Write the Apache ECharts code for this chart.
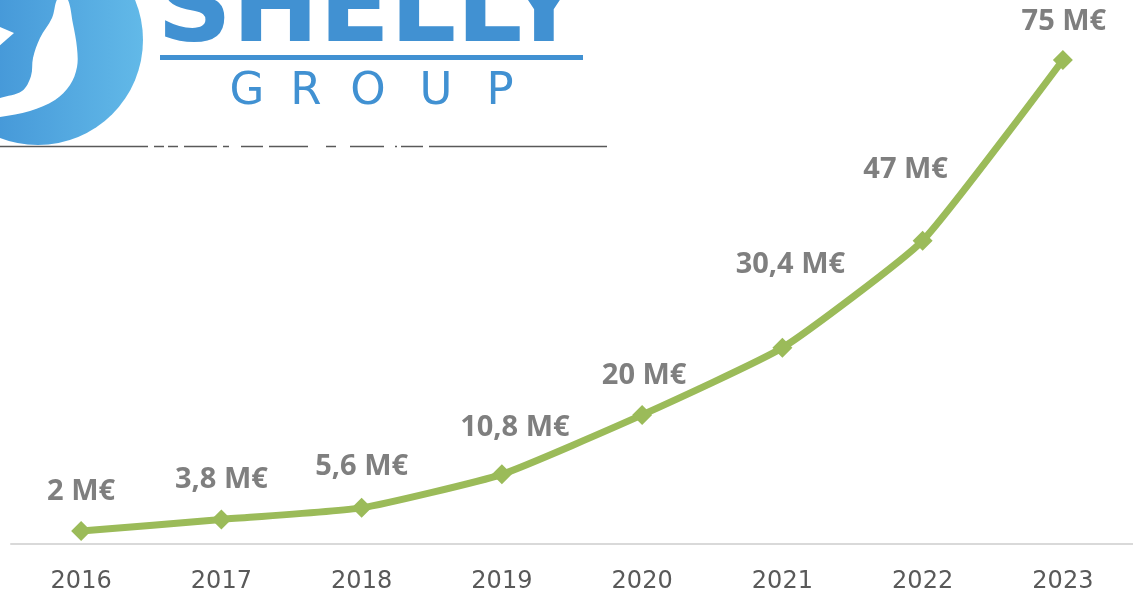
<!DOCTYPE html>
<html>
<head>
<meta charset="utf-8">
<script src="https://cdn.jsdelivr.net/npm/echarts@6/dist/echarts.min.js"></script>
<style>
html,body{margin:0;padding:0;background:#fff;}
#chart{width:1133px;height:595px;}
</style>
</head>
<body>
<div id="chart"></div>
<script>
// ---- data ----
const years = ['2016', '2017', '2018', '2019', '2020', '2021', '2022', '2023'];
const revenue = [2, 3.8, 5.6, 10.8, 20, 30.4, 47, 75];
const revenueLabels = ['2 M€', '3,8 M€', '5,6 M€', '10,8 M€', '20 M€', '30,4 M€', '47 M€', '75 M€'];

// ---- styling (label nudges, in px) ----
const labelOffsets = [[0,-39],[0,-40],[0,-41],[13,-47],[2,-39],[8,-83],[-17,-71],[1,-38]];

const GREEN = '#9bbb59';
const LOGO_BLUE = '#4191d2';

const chart = echarts.init(document.getElementById('chart'), null, {renderer: 'canvas'});

const seriesData = revenue.map((v, i) => ({
  value: v,
  label: {
    formatter: revenueLabels[i],
    offset: labelOffsets[i]
  }
}));

// separator line pieces under the logo
const sepPieces = [[0,148],[154,164],[168,178],[184,217],[223,229],[241,263],[269,308],[326,336],[350,384],[395,397],[401,423],[429,607]];
const groupLetters = [['G',247],['R',306],['O',368],['U',436],['P',500]];

const graphics = [
  {
    type: 'circle', z: 0,
    shape: {cx: 38, cy: 40, r: 105},
    style: {
      fill: new echarts.graphic.LinearGradient(0, 0, 1, 0, [
        {offset: 0, color: '#3a8bd2'},
        {offset: 1, color: '#62b9e8'}
      ])
    }
  },
  {
    type: 'polygon', z: 1,
    shape: {
      smooth: 0.35,
      points: [[58,-2],[52,18],[40,38],[33,58],[31,76],[22,91],[0,98],[-5,100],[-5,117],[0,117],[30,111],[55,100],[70,85],[77,67],[77,48],[73,24],[67,-2]]
    },
    style: {fill: '#ffffff'}
  },
  {
    type: 'polygon', z: 1,
    shape: {points: [[-2,26],[14,33],[6,40],[-2,47]]},
    style: {fill: '#ffffff'}
  },
  {
    type: 'text', z: 1,
    x: 157, y: 66,
    style: {
      text: 'SHELLY',
      fill: LOGO_BLUE,
      fontFamily: 'DejaVu Sans',
      fontWeight: 'bold',
      fontSize: 104,
      textAlign: 'left',
      textVerticalAlign: 'bottom'
    }
  },
  {
    type: 'rect', z: 1,
    shape: {x: 160, y: 55, width: 423, height: 5},
    style: {fill: LOGO_BLUE}
  }
];
groupLetters.forEach(([ch, cx]) => {
  graphics.push({
    type: 'text', z: 1,
    x: cx, y: 92,
    style: {
      text: ch,
      fill: LOGO_BLUE,
      fontFamily: 'DejaVu Sans',
      fontWeight: 'normal',
      fontSize: 45,
      textAlign: 'center',
      textVerticalAlign: 'middle'
    }
  });
});
sepPieces.forEach(([a, b]) => {
  graphics.push({
    type: 'line', z: 2,
    shape: {x1: a, y1: 146.5, x2: b, y2: 146.5},
    style: {stroke: '#595959', lineWidth: 1.5}
  });
});

const option = {
  backgroundColor: '#ffffff',
  animation: false,
  graphic: {elements: graphics},
  grid: {left: 11, width: 1123, top: 60, bottom: 51, containLabel: false},
  xAxis: {
    type: 'category',
    data: years,
    boundaryGap: true,
    axisLine: {show: true, lineStyle: {color: '#d9d9d9', width: 2}},
    axisTick: {show: false},
    axisLabel: {
      color: '#595959',
      fontFamily: 'DejaVu Sans',
      fontSize: 24,
      margin: 26
    },
    splitLine: {show: false}
  },
  yAxis: {
    type: 'value',
    min: 0,
    max: 75,
    show: false,
    splitLine: {show: false}
  },
  series: [{
    type: 'line',
    data: seriesData,
    smooth: 0.15,
    clip: false,
    symbol: 'diamond',
    symbolSize: 20,
    lineStyle: {color: GREEN, width: 7},
    itemStyle: {color: GREEN},
    label: {
      show: true,
      position: 'inside',
      color: '#7f7f7f',
      fontFamily: 'Open Sans',
      fontWeight: 'bold',
      fontSize: 29
    },
    z: 5
  }]
};

chart.setOption(option);
</script>
</body>
</html>
